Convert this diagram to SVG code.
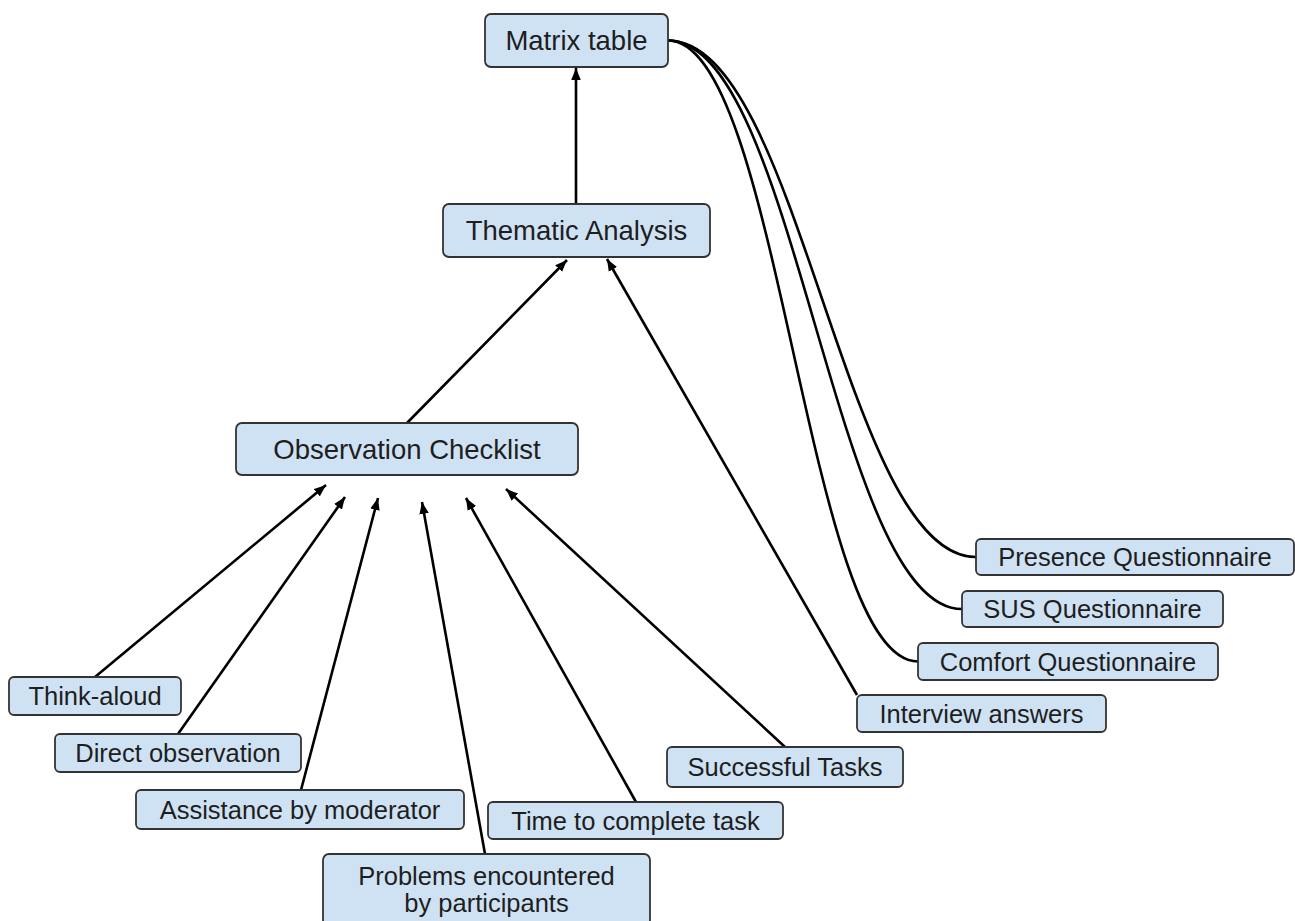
<svg xmlns="http://www.w3.org/2000/svg" width="1295" height="921" viewBox="0 0 1295 921">
<style>
.box{fill:#cfe2f3;stroke:#333;stroke-width:1.8}
.t{font-family:"Liberation Sans",Arial,sans-serif;font-size:25.5px;fill:#1e1e1e;text-anchor:middle;dominant-baseline:central}
.tb{font-size:27.5px}
.c{fill:none;stroke:#000;stroke-width:2.6}
</style>
<defs>
<marker id="ah" viewBox="0 0 10 8" refX="10" refY="4" markerWidth="12" markerHeight="10" markerUnits="userSpaceOnUse" orient="auto">
<path d="M0,0 L10,4 L0,8 Z" fill="#000"/>
</marker>
</defs>
<rect width="1295" height="921" fill="#fff"/>
<g id="connectors">
<line class="c" x1="576" y1="204" x2="576" y2="68" marker-end="url(#ah)"/>
<line class="c" x1="407" y1="423" x2="567" y2="260" marker-end="url(#ah)"/>
<line class="c" x1="857" y1="695" x2="607" y2="259" marker-end="url(#ah)"/>
<path class="c" d="M668,40.5 C800,40.5 844,557 976,557"/>
<path class="c" d="M668,40.5 C796,40.5 834,609 962,609"/>
<path class="c" d="M668,40.5 C780,40.5 806,661.5 918,661.5"/>
<line class="c" x1="95" y1="677" x2="326" y2="485" marker-end="url(#ah)"/>
<line class="c" x1="178" y1="734" x2="345" y2="497" marker-end="url(#ah)"/>
<line class="c" x1="301" y1="790" x2="378" y2="498" marker-end="url(#ah)"/>
<line class="c" x1="485" y1="854" x2="422" y2="502" marker-end="url(#ah)"/>
<line class="c" x1="636" y1="802" x2="466" y2="498" marker-end="url(#ah)"/>
<line class="c" x1="785" y1="747" x2="506" y2="489" marker-end="url(#ah)"/>
</g>
<g id="matrix"><rect class="box" x="485" y="14" width="183" height="53" rx="6"/><text class="t tb" x="576.5" y="40.5">Matrix table</text></g>
<g id="thematic"><rect class="box" x="443" y="204" width="267" height="53" rx="6"/><text class="t tb" x="576.5" y="230.5">Thematic Analysis</text></g>
<g id="observation"><rect class="box" x="236" y="423" width="342" height="52" rx="6"/><text class="t tb" x="407" y="449">Observation Checklist</text></g>
<g id="think"><rect class="box" x="9" y="677" width="172" height="38" rx="5"/><text class="t" x="95" y="696">Think-aloud</text></g>
<g id="direct"><rect class="box" x="55" y="734" width="246" height="38" rx="5"/><text class="t" x="178" y="753">Direct observation</text></g>
<g id="assist"><rect class="box" x="136" y="790" width="328" height="39" rx="5"/><text class="t" x="300" y="809.5">Assistance by moderator</text></g>
<g id="problems"><rect class="box" x="323" y="854" width="327" height="72" rx="6"/><text class="t" x="486.5" y="876">Problems encountered</text><text class="t" x="486.5" y="903">by participants</text></g>
<g id="time"><rect class="box" x="488" y="802" width="295" height="37" rx="5"/><text class="t" x="635.5" y="820.5">Time to complete task</text></g>
<g id="successful"><rect class="box" x="667" y="747" width="236" height="40" rx="5"/><text class="t" x="785" y="767">Successful Tasks</text></g>
<g id="interview"><rect class="box" x="857" y="695" width="249" height="37" rx="5"/><text class="t" x="981.5" y="713.5">Interview answers</text></g>
<g id="comfort"><rect class="box" x="918" y="643" width="300" height="37" rx="5"/><text class="t" x="1068" y="661.5">Comfort Questionnaire</text></g>
<g id="sus"><rect class="box" x="962" y="591" width="261" height="36" rx="5"/><text class="t" x="1092.5" y="609">SUS Questionnaire</text></g>
<g id="presence"><rect class="box" x="976" y="539" width="318" height="36" rx="5"/><text class="t" x="1135" y="557">Presence Questionnaire</text></g>
</svg>
